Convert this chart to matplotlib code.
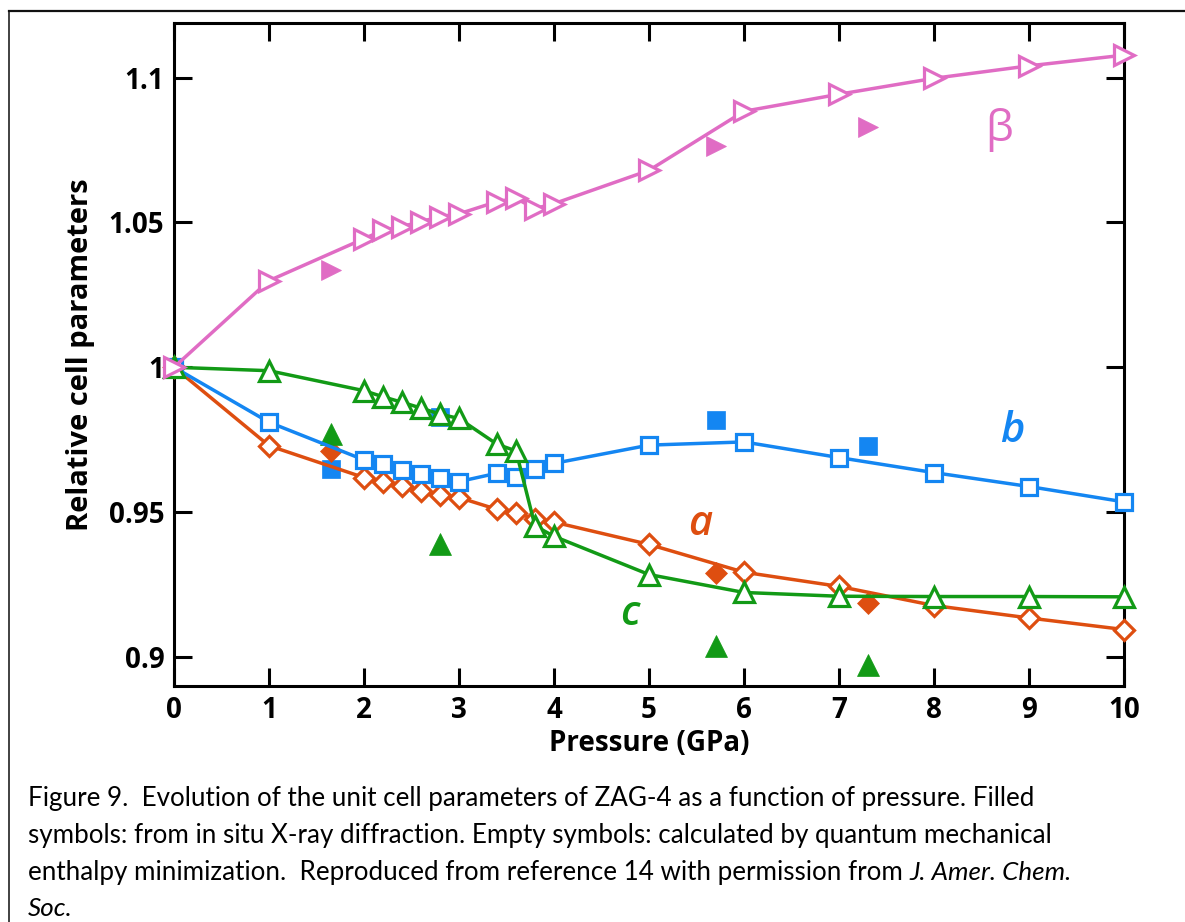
import numpy as np
import matplotlib
matplotlib.use("Agg")
import matplotlib.pyplot as plt
from matplotlib.lines import Line2D

plt.rcParams['font.family'] = ['Open Sans', 'DejaVu Sans']

# ---------------- data ----------------
P_calc = [0, 1, 2, 2.2, 2.4, 2.6, 2.8, 3.0, 3.4, 3.6, 3.8, 4, 5, 6, 7, 8, 9, 10]
a_calc = [1.0, 0.9729, 0.9619, 0.9602, 0.9590, 0.9573, 0.9559, 0.9550, 0.9509, 0.9498,
          0.9475, 0.9465, 0.9388, 0.9292, 0.9243, 0.9177, 0.9134, 0.9094]
b_calc = [1.0, 0.9810, 0.9680, 0.9665, 0.9645, 0.9631, 0.9617, 0.9605, 0.9634, 0.9622,
          0.9648, 0.9668, 0.9731, 0.9742, 0.9688, 0.9636, 0.9588, 0.9535]
c_calc = [1.0, 0.9988, 0.9919, 0.9898, 0.9879, 0.9859, 0.9838, 0.9823, 0.9734, 0.9711,
          0.9452, 0.9416, 0.9284, 0.9222, 0.9209, 0.9208, 0.9208, 0.9207]
beta_calc = [1.0, 1.0299, 1.0444, 1.0473, 1.0486, 1.0503, 1.0520, 1.0530, 1.0572, 1.0583,
             1.0548, 1.0565, 1.0680, 1.0884, 1.0943, 1.0998, 1.1041, 1.1078]

P_exp_a = [1.65, 5.7, 7.3]
a_exp = [0.9711, 0.9288, 0.9186]
P_exp_b = [1.65, 2.8, 5.7, 7.3]
b_exp = [0.9650, 0.9828, 0.9819, 0.9729]
P_exp_c = [1.65, 2.8, 5.7, 7.3]
c_exp = [0.9769, 0.9390, 0.9036, 0.8970]
P_exp_beta = [1.65, 5.7, 7.3]
beta_exp = [1.0337, 1.0763, 1.0831]

x_ticks = [0, 1, 2, 3, 4, 5, 6, 7, 8, 9, 10]
y_ticks = [0.9, 0.95, 1.0, 1.05, 1.1]
y_tick_labels = ['0.9', '0.95', '1', '1.05', '1.1']

caption_lines = [
    "Figure 9.  Evolution of the unit cell parameters of ZAG-4 as a function of pressure. Filled",
    "symbols: from in situ X-ray diffraction. Empty symbols: calculated by quantum mechanical",
    "enthalpy minimization.  Reproduced from reference 14 with permission from ",
]
caption_italic3 = "J. Amer. Chem."
caption_italic4 = "Soc."

# ---------------- colours ----------------
PINK = '#E06CC4'
BLUE = '#1486F2'
ORANGE = '#DE4E10'
GREEN = '#129A16'

W, H = 1185, 922
fig = plt.figure(figsize=(W / 100, H / 100), dpi=100)
ax = fig.add_axes([174 / W, 1 - 686 / H, (1124 - 174) / W, (686 - 23) / H])

lw = 2.5
mew = 2.3

# filled (experimental) symbols
ax.plot(P_exp_b, b_exp, ls='none', marker='s', ms=12.5, color=BLUE, mec=BLUE, mew=0.5, zorder=2)
ax.plot(P_exp_a, a_exp, ls='none', marker='D', ms=11.5, color=ORANGE, mec=ORANGE, mew=0.5, zorder=2)
ax.plot(P_exp_c, c_exp, ls='none', marker='^', ms=16, color=GREEN, mec=GREEN, mew=0.5, zorder=2)
ax.plot(P_exp_beta, beta_exp, ls='none', marker='>', ms=15, color=PINK, mec=PINK, mew=0.5, zorder=2)

# calculated (open) symbols with lines
ax.plot(P_calc, a_calc, '-', color=ORANGE, lw=lw, marker='D', ms=10.5, mfc='white',
        mec=ORANGE, mew=mew, zorder=3, clip_on=False)
ax.plot(P_calc, b_calc, '-', color=BLUE, lw=lw, marker='s', ms=12, mfc='white',
        mec=BLUE, mew=mew, zorder=3, clip_on=False)
ax.plot(P_calc, c_calc, '-', color=GREEN, lw=lw, marker='^', ms=14, mfc='white',
        mec=GREEN, mew=mew, zorder=4, clip_on=False)
ax.plot(P_calc, beta_calc, '-', color=PINK, lw=lw, marker='>', ms=15, mfc='white',
        mec=PINK, mew=mew, zorder=4, clip_on=False)

# curve labels
ax.text(8.69, 1.0822, 'β', color=PINK, fontsize=32, ha='center', va='center',
        family=['Open Sans', 'DejaVu Sans'], fontweight='normal')
ax.text(8.82, 0.978, 'b', color=BLUE, fontsize=30, ha='center', va='center',
        style='italic', fontweight='semibold')
ax.text(5.54, 0.9457, 'a', color=ORANGE, fontsize=30, ha='center', va='center',
        style='italic', fontweight='semibold')
ax.text(4.80, 0.9146, 'c', color=GREEN, fontsize=30, ha='center', va='center',
        style='italic', fontweight='semibold')

ax.set_xlim(0, 10)
ax.set_ylim(0.8899, 1.1189)
ax.set_xticks(x_ticks)
ax.set_yticks(y_ticks)
ax.set_yticklabels(y_tick_labels)
ax.tick_params(direction='in', length=13, width=2.2, top=True, right=True,
               labelsize=20, pad=7, colors='black')
for lab in ax.get_xticklabels() + ax.get_yticklabels():
    lab.set_fontweight('bold')
for sp in ax.spines.values():
    sp.set_linewidth(2.2)

ax.set_xlabel('Pressure (GPa)', fontsize=20, fontweight='bold', labelpad=3)
ax.set_ylabel('Relative cell parameters', fontsize=21, fontweight='bold', labelpad=10)

# outer frame lines
fig.add_artist(Line2D([9 / W, 9 / W], [0, 1 - 11 / H], color='#333333', lw=1.3,
                      transform=fig.transFigure))
fig.add_artist(Line2D([9 / W, 1], [1 - 11 / H, 1 - 11 / H], color='#111111', lw=1.6,
                      transform=fig.transFigure))

# caption
cap_font = ['Lato', 'DejaVu Sans']
cap_size = 18.7
baselines = [806, 843, 880, 916]
x0 = 28 / W
txts = []
for i, line in enumerate(caption_lines):
    t = fig.text(x0, 1 - baselines[i] / H, line, fontsize=cap_size, family=cap_font,
                 va='baseline', ha='left')
    txts.append(t)
fig.canvas.draw()
r = fig.canvas.get_renderer()
bb = txts[2].get_window_extent(renderer=r)
fig.text(bb.x1 / W, 1 - baselines[2] / H, caption_italic3, fontsize=cap_size,
         family=cap_font, style='italic', va='baseline', ha='left')
fig.text(x0, 1 - baselines[3] / H, caption_italic4, fontsize=cap_size,
         family=cap_font, style='italic', va='baseline', ha='left')

fig.savefig('out.png', dpi=100)
